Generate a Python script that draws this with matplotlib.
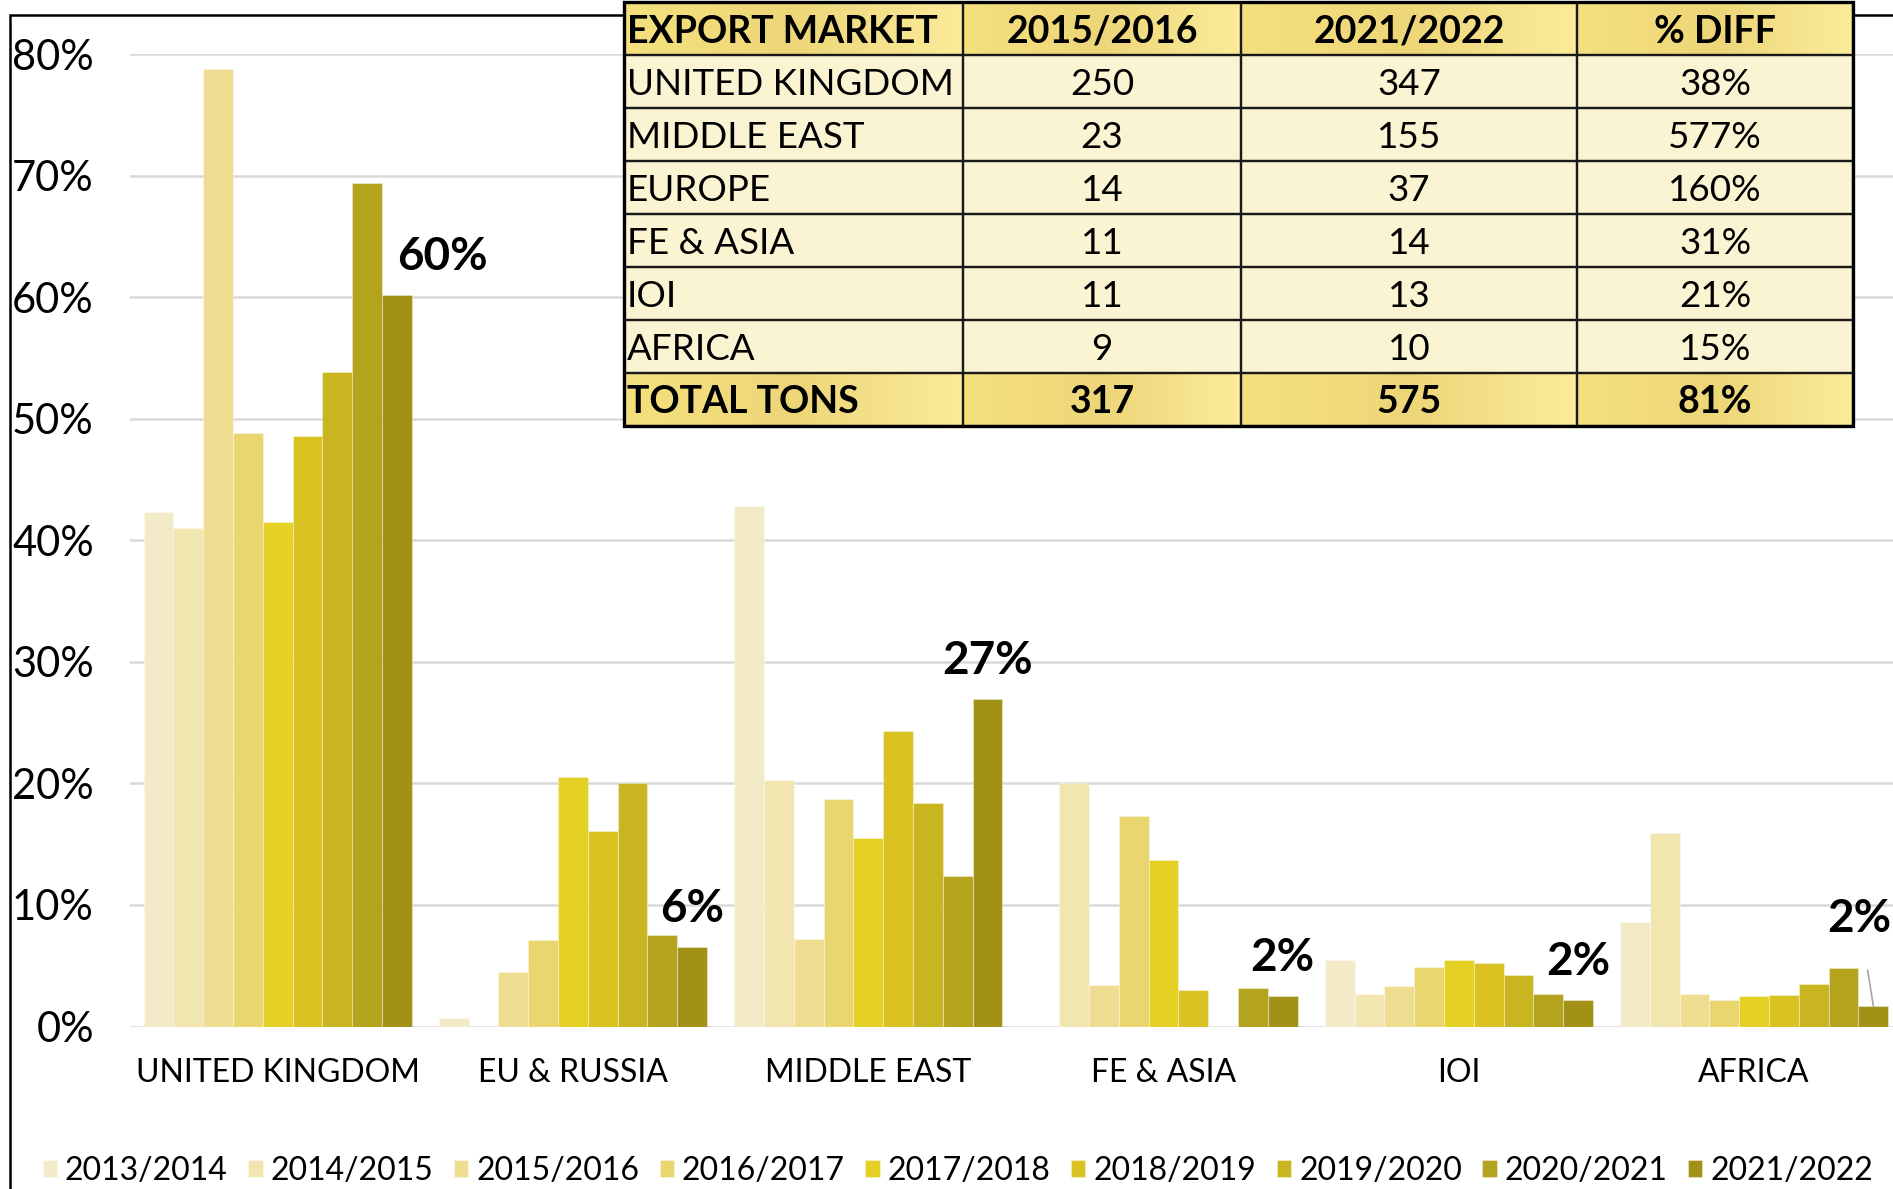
import numpy as np
import matplotlib
matplotlib.use('Agg')
import matplotlib.pyplot as plt
from matplotlib.patches import Rectangle
from matplotlib.colors import LinearSegmentedColormap

plt.rcParams['font.family'] = ['Lato', 'DejaVu Sans']

# ---------------- data ----------------
markets = ['UNITED KINGDOM', 'EU & RUSSIA', 'MIDDLE EAST', 'FE & ASIA', 'IOI', 'AFRICA']
seasons = ['2013/2014', '2014/2015', '2015/2016', '2016/2017', '2017/2018',
           '2018/2019', '2019/2020', '2020/2021', '2021/2022']
# share of exports per market, one list per season (same order as markets)
s1314 = [0.423, 0.007, 0.428, 0.000, 0.055, 0.086]
s1415 = [0.410, 0.000, 0.203, 0.200, 0.027, 0.159]
s1516 = [0.788, 0.045, 0.072, 0.034, 0.033, 0.027]
s1617 = [0.488, 0.071, 0.187, 0.173, 0.049, 0.022]
s1718 = [0.415, 0.205, 0.155, 0.137, 0.055, 0.025]
s1819 = [0.486, 0.161, 0.243, 0.030, 0.052, 0.026]
s1920 = [0.538, 0.200, 0.184, 0.000, 0.042, 0.035]
s2021 = [0.694, 0.075, 0.124, 0.032, 0.027, 0.048]
s2122 = [0.602, 0.065, 0.269, 0.025, 0.022, 0.017]
season_values = [s1314, s1415, s1516, s1617, s1718, s1819, s1920, s2021, s2122]
last_labels = ['60%', '6%', '27%', '2%', '2%', '2%']

colors = ['#F3EAC8', '#F1E5B0', '#EEDD90', '#E9D66E', '#E5D024',
          '#D9C222', '#C9B51F', '#B4A31D', '#A19117']

# summary table
tbl_header = ['EXPORT MARKET', '2015/2016', '2021/2022', '% DIFF']
tbl_markets = ['UNITED KINGDOM', 'MIDDLE EAST', 'EUROPE', 'FE & ASIA', 'IOI', 'AFRICA']
tons_1516 = [250, 23, 14, 11, 11, 9]
tons_2122 = [347, 155, 37, 14, 13, 10]
pct_diff = ['38%', '577%', '160%', '31%', '21%', '15%']
total_row = ['TOTAL TONS', '317', '575', '81%']

# ---------------- figure ----------------
W, H = 1893, 1189
fig = plt.figure(figsize=(W / 100, H / 100), dpi=100)

# outer chart border (runs off the right/bottom edge)
fig.patches.append(Rectangle((9.7 / W, -0.05), 1.1, 1 - 14.5 / H + 0.05,
                             transform=fig.transFigure, fill=False,
                             edgecolor='black', lw=1.8, zorder=0))

ax = fig.add_axes([130 / W, 1 - 1026.5 / H, (1901.8 - 130) / W, (1026.5 - 54) / H])
x = np.arange(len(markets))
bw = 0.1009
bars = []
for i, (lab, vals) in enumerate(zip(seasons, season_values)):
    b = ax.bar(x + (i - 4) * bw, vals, bw, color=colors[i], label=lab,
               edgecolor=(1, 1, 1, 0.35), linewidth=0.8, zorder=3)
    bars.append(b)

ax.set_ylim(0, 0.8)
ax.set_xlim(-0.5, len(markets) - 0.5)
ax.set_yticks(np.arange(0, 0.81, 0.1))
ax.set_yticklabels([f'{int(round(v * 100))}%' for v in np.arange(0, 0.81, 0.1)])
ax.grid(axis='y', color='#D9D9D9', lw=1.8, zorder=0)
ax.set_axisbelow(True)
for s in ax.spines.values():
    s.set_visible(False)
ax.tick_params(axis='y', length=0, pad=26, labelsize=30)
ax.set_xticks(x)
ax.set_xticklabels(markets)
ax.tick_params(axis='x', length=0, pad=23, labelsize=23)

# bold labels on the 2021/2022 bars
last = bars[-1]
offsets = [(46, 38), (0, 38), (0, 38), (0, 38), (0, 38), (-14, 87)]
for rect, txt, off in zip(last, last_labels, offsets):
    cx = rect.get_x() + rect.get_width() / 2
    top = rect.get_height()
    if off[1] > 60:
        ax.annotate(txt, xy=(cx, top), xytext=off, textcoords='offset pixels',
                    ha='center', va='center', fontsize=33, fontweight='bold',
                    arrowprops=dict(arrowstyle='-', color='#A6A6A6', lw=1.2,
                                    shrinkA=20, shrinkB=0),
                    annotation_clip=False)
    else:
        ax.annotate(txt, xy=(cx, top), xytext=off, textcoords='offset pixels',
                    ha='center', va='center', fontsize=33, fontweight='bold',
                    annotation_clip=False)

fig.legend(loc='center', bbox_to_anchor=(0.506, 0.0151), ncol=9, frameon=False,
           fontsize=23, handlelength=0.45, handleheight=0.45, handletextpad=0.25,
           columnspacing=0.64, borderaxespad=0)

# ---------------- summary table ----------------
col_edges = [624, 963, 1241, 1577, 1853]
tx0, tx1, ty0, ty1 = 624, 1853, 2.4, 426
tax = fig.add_axes([tx0 / W, 1 - ty1 / H, (tx1 - tx0) / W, (ty1 - ty0) / H], zorder=5)
tax.set_xlim(tx0, tx1)
tax.set_ylim(8, 0)
tax.axis('off')

gold = LinearSegmentedColormap.from_list('gold', ['#F5E07E', '#EDD678', '#FBEB9A'])
grad = np.linspace(0, 1, 64).reshape(1, -1)
rows = [tbl_header] + [[m, str(a), str(b), p] for m, a, b, p in
                       zip(tbl_markets, tons_1516, tons_2122, pct_diff)] + [total_row]
for r, row in enumerate(rows):
    shaded = r == 0 or r == len(rows) - 1
    for c in range(4):
        x0, x1 = col_edges[c], col_edges[c + 1]
        if shaded:
            tax.imshow(grad, cmap=gold, aspect='auto', extent=(x0, x1, r + 1, r),
                       zorder=1)
        else:
            tax.add_patch(Rectangle((x0, r), x1 - x0, 1, color='#FAF4D3', zorder=1))
        tax.add_patch(Rectangle((x0, r), x1 - x0, 1, fill=False, edgecolor='#1A1A1A',
                                lw=1.6, zorder=3))
        ha = 'left' if c == 0 else 'center'
        tx = x0 + 3 if c == 0 else (x0 + x1) / 2
        tax.text(tx, r + 0.55, row[c], ha=ha, va='center',
                 fontsize=27 if shaded else 26.5,
                 fontweight='bold' if shaded else 'normal', zorder=4)
tax.add_patch(Rectangle((tx0, 0), tx1 - tx0, 8, fill=False, edgecolor='black',
                        lw=2.4, zorder=5, clip_on=False))
tax.set_xlim(tx0, tx1)
tax.set_ylim(8, 0)

fig.savefig('out.png', dpi=100, facecolor='white')
